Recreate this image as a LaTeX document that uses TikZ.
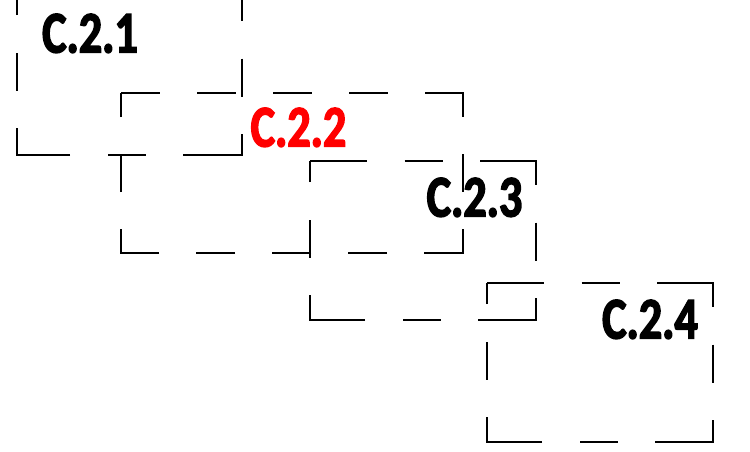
\documentclass[tikz,border=0pt]{standalone}
\usepackage{fontspec}
\usepackage{tikz}
\newfontfamily\boxfont[FakeStretch=0.78, BoldFeatures={FakeBold=2.5}]{Carlito}

\begin{document}
\begin{tikzpicture}[x=1pt, y=-1pt,
	box/.style={line width=2pt, dash pattern=on 80pt off 37.5pt on 38pt off 37.5pt, dash phase=23pt},
	widebox/.style={line width=2pt, dash pattern=on 63pt off 37pt on 39pt off 37pt on 39pt off 37pt on 39pt off 37pt on 62pt off 37pt on 38pt off 37pt, dash phase=24pt},
	boxlabel/.style={font=\boxfont\bfseries\fontsize{59}{59}\selectfont, inner sep=0pt, anchor=base}]
	\useasboundingbox (0,0) rectangle (750,451);
	\coordinate (tla) at (17,-4); \coordinate (tra) at (242,-4); \coordinate (bra) at (242,155); \coordinate (bla) at (17,155);
	\coordinate (tlb) at (121,93); \coordinate (trb) at (463,93); \coordinate (brb) at (463,253); \coordinate (blb) at (121,253);
	\coordinate (tlc) at (310,161); \coordinate (trc) at (536,161); \coordinate (brc) at (536,320); \coordinate (blc) at (310,320);
	\coordinate (tld) at (487,283); \coordinate (trd) at (713,283); \coordinate (brd) at (713,442); \coordinate (bld) at (487,442);
	\draw[box] (tla) -- (tra) -- (bra) -- (bla) -- cycle;
	\draw[widebox] (tlb) -- (trb) -- (brb) -- (blb) -- cycle;
	\draw[box] (tlc) -- (trc) -- (brc) -- (blc) -- cycle;
	\draw[box] (tld) -- (trd) -- (brd) -- (bld) -- cycle;
	\node[boxlabel] (c21) at (90,52.5) {C.2.1};
	\node[boxlabel, red] (c22) at (298.5,146.5) {C.2.2};
	\node[boxlabel] (c23) at (474.5,216.5) {C.2.3};
	\node[boxlabel] (c24) at (650,338.5) {C.2.4};
\end{tikzpicture}
\end{document}
